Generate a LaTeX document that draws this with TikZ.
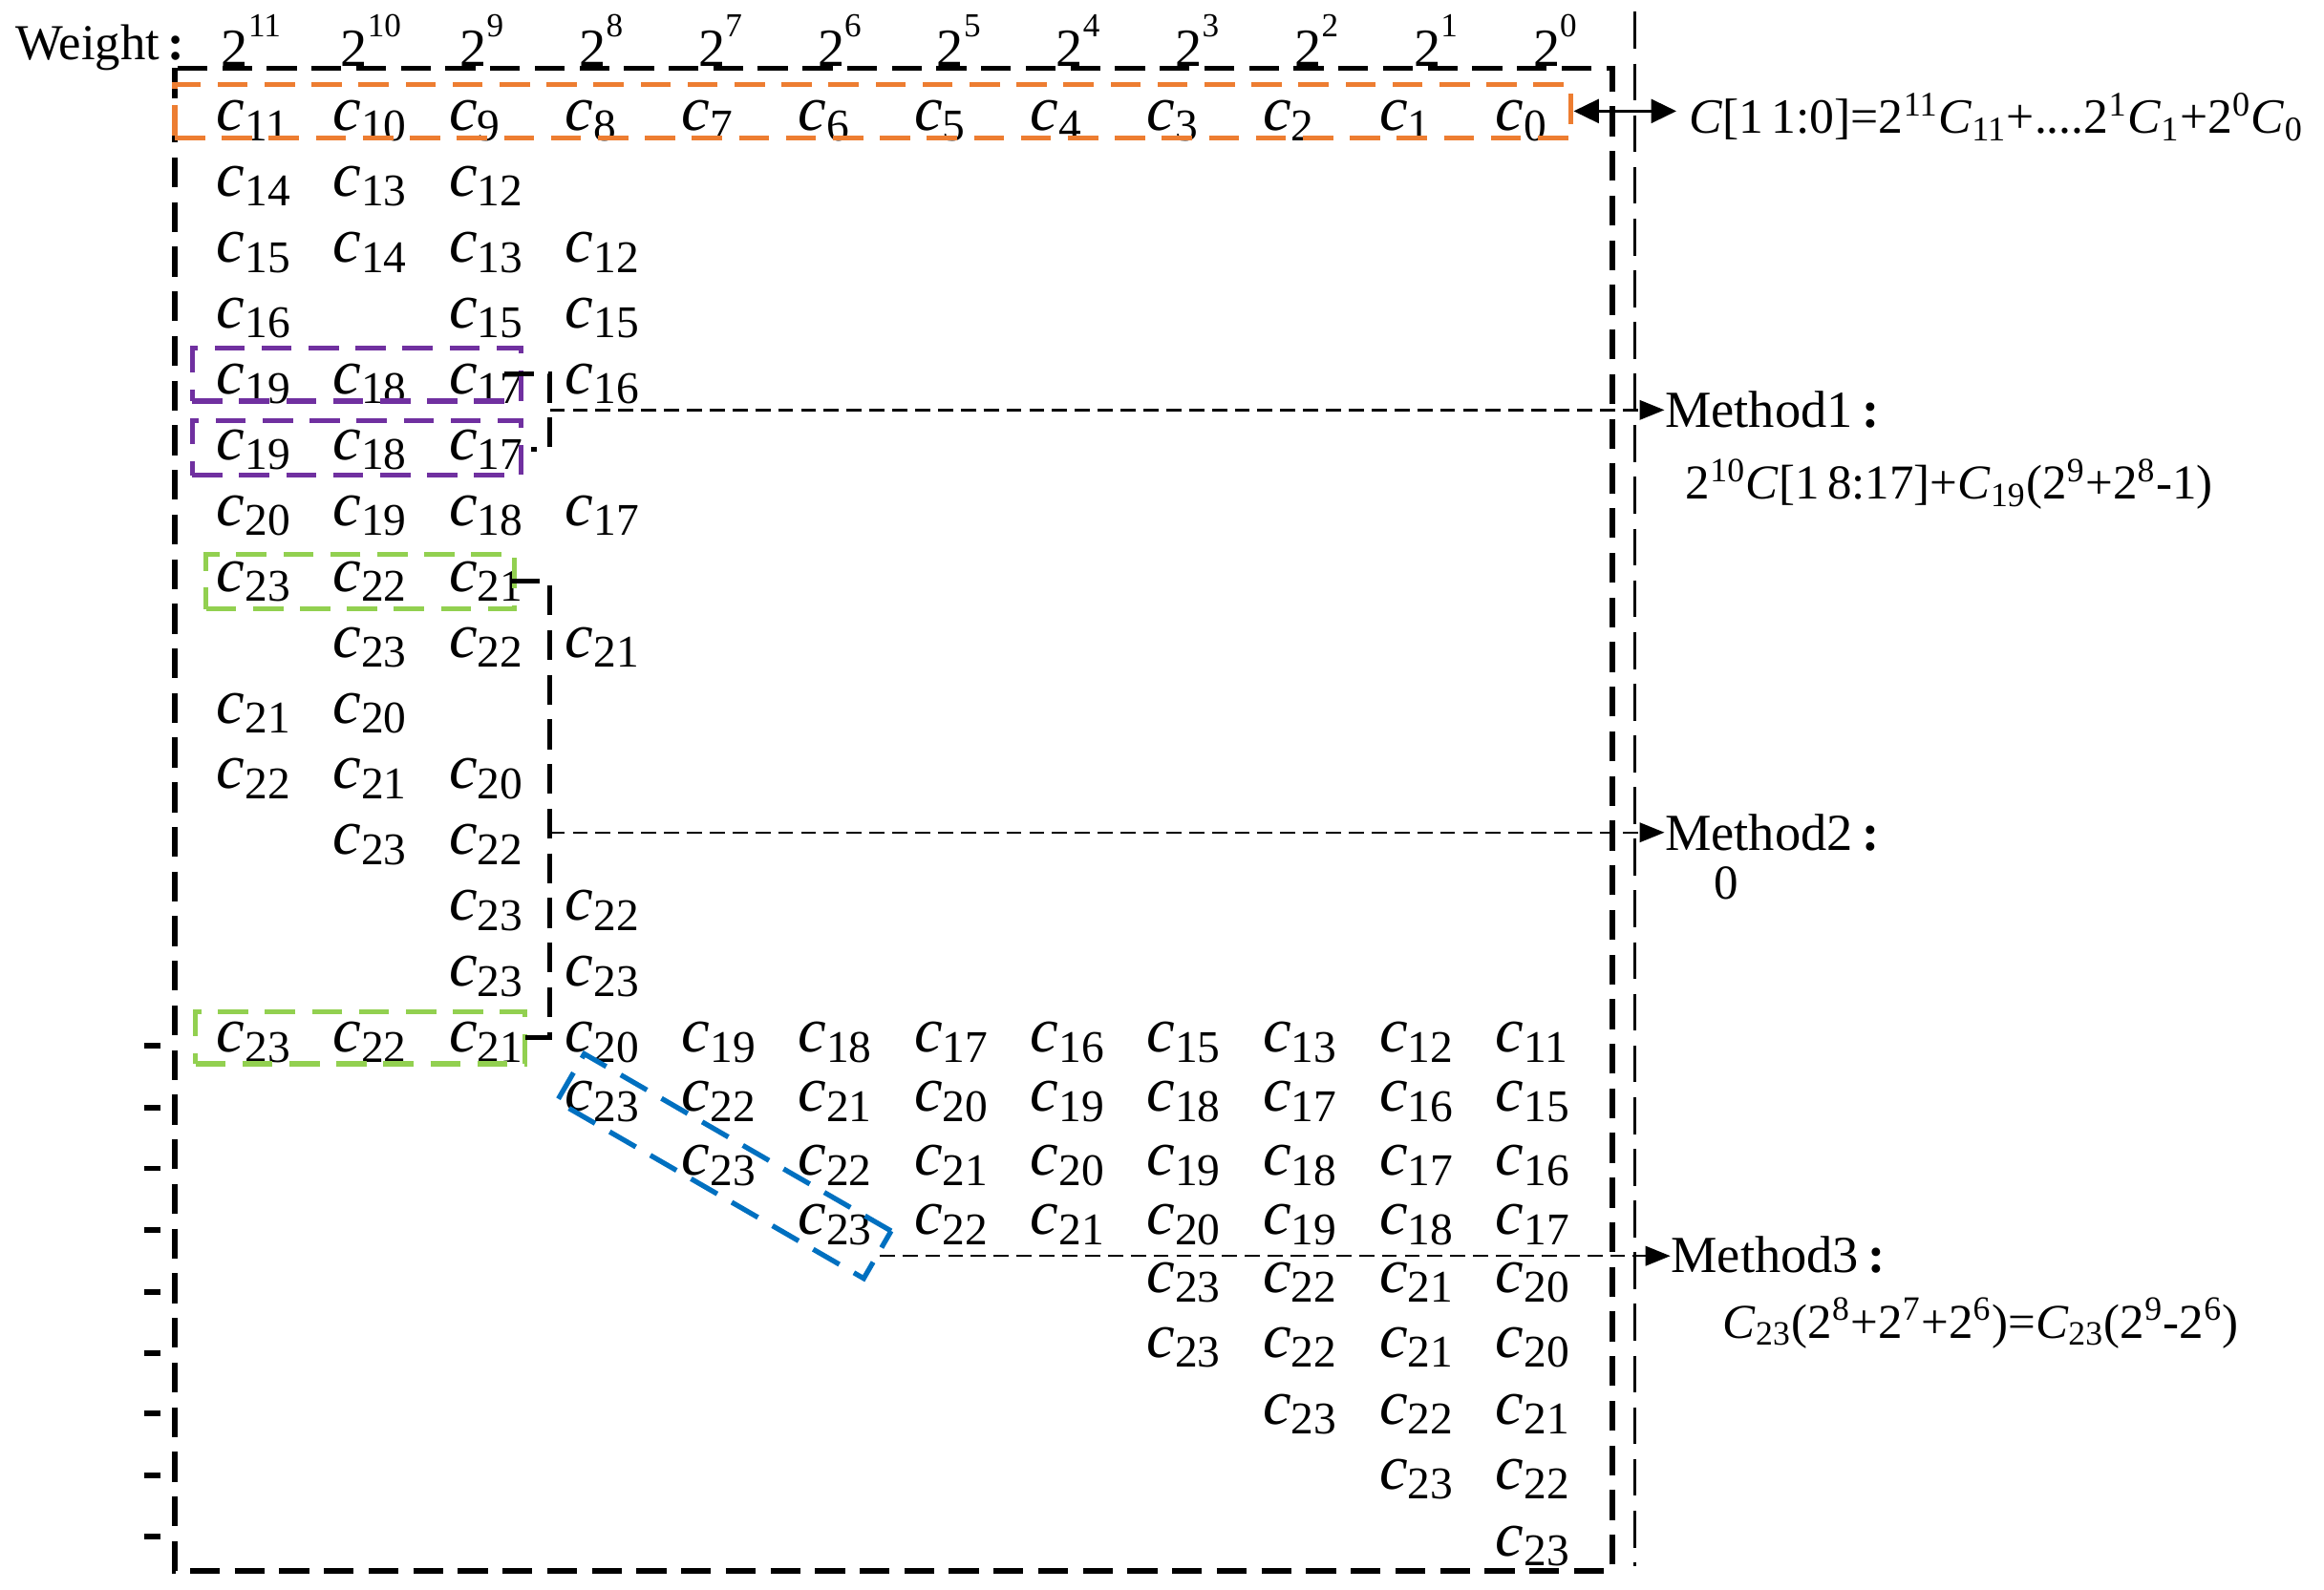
\documentclass[tikz,border=0pt]{standalone}
\usepackage{fontspec}
\setmainfont{Liberation Serif}
\usetikzlibrary{arrows.meta,fit}
\definecolor{orng}{HTML}{ED7D31}
\definecolor{purp}{HTML}{7030A0}
\definecolor{grn}{HTML}{92D050}
\definecolor{blu}{HTML}{0070C0}
\newcommand\clab[1]{{\fontsize{19}{19}\selectfont\itshape c}\raisebox{-3pt}{\fontsize{13.5}{13.5}\selectfont #1}}
\newcommand\wlab[1]{{\fontsize{16}{16}\selectfont 2}\raisebox{9pt}{\fontsize{10}{10}\selectfont #1}}
\newcommand\itC{\textit{C}}
\begin{document}
\begin{tikzpicture}[x=0.015517cm,y=-0.015517cm,
  lab/.style={inner sep=0pt, anchor=base west},
  bigbox/.style={line width=1.6pt, dash pattern=on 8.9pt off 4.4pt},
  vline/.style={line width=1.1pt, dash pattern=on 11pt off 4.4pt},
  cbox/.style={line width=1.5pt, dash pattern=on 9pt off 5pt, inner sep=0pt},
  brk/.style={line width=1.5pt, dash pattern=on 8.9pt off 4.4pt},
  conn/.style={line width=0.7pt, dash pattern=on 4.5pt off 2.3pt, -{Triangle[length=7.4pt,width=5.8pt]}},
  tickmark/.style={line width=1.7pt},
  meth/.style={inner sep=0pt, anchor=west, font=\fontsize{15.5}{16}\selectfont},
  form/.style={inner sep=0pt, anchor=base west, font=\fontsize{14.5}{15}\selectfont},
]
\useasboundingbox (0,0) rectangle (1568,1073);

% weight row
\node[lab, font=\fontsize{15}{15}\selectfont] (wt) at (10,40) {Weight\,\textbf{:}};
\foreach \i/\e in {0/11,1/10,2/9,3/8,4/7,5/6,6/5,7/4,8/3,9/2,10/1,11/0}
  \node[lab] (w\i) at ({149+80.45*\i},45) {\wlab{\e}};

% outer boxes
\draw[bigbox] (118,46) rectangle (1088,1060);
\draw[vline] (1103,8) -- (1103,1057);

% c labels
\foreach \r/\y/\items in {
  1/88/{0/11,1/10,2/9,3/8,4/7,5/6,6/5,7/4,8/3,9/2,10/1,11/0},
  2/132.4/{0/14,1/13,2/12},
  3/176.9/{0/15,1/14,2/13,3/12},
  4/221.3/{0/16,2/15,3/15},
  5/265.7/{0/19,1/18,2/17,3/16},
  6/310.2/{0/19,1/18,2/17},
  7/354.6/{0/20,1/19,2/18,3/17},
  8/399/{0/23,1/22,2/21},
  9/443.4/{1/23,2/22,3/21},
  10/487.9/{0/21,1/20},
  11/532.3/{0/22,1/21,2/20},
  12/576.7/{1/23,2/22},
  13/621.2/{2/23,3/22},
  14/665.6/{2/23,3/23},
  15/710/{0/23,1/22,2/21,3/20,4/19,5/18,6/17,7/16,8/15,9/13,10/12,11/11},
  16/750/{3/23,4/22,5/21,6/20,7/19,8/18,9/17,10/16,11/15},
  17/793/{4/23,5/22,6/21,7/20,8/19,9/18,10/17,11/16},
  18/833/{5/23,6/22,7/21,8/20,9/19,10/18,11/17},
  19/872/{8/23,9/22,10/21,11/20},
  20/916/{8/23,9/22,10/21,11/20},
  21/961/{9/23,10/22,11/21},
  22/1005/{10/23,11/22},
  23/1050/{11/23}}
{
  \foreach \k/\v in \items
    \node[lab] (c-\r-\k) at ({145.7+78.45*\k},\y) {\clab{\v}};
}

% left ticks
\foreach \t in {705.7,747.6,788.5,830,872,913,954,995.5,1036.8}
  \draw[tickmark] (97,\t) -- (108,\t);

% coloured boxes
\node[cbox, draw=orng, fit={(118,57) (1060,93)}] (ob) {};
\node[cbox, draw=purp, fit={(129.7,234.8) (351.4,270.7)}] (pA) {};
\node[cbox, draw=purp, fit={(129.7,284) (351.4,320.7)}] (pB) {};
\node[cbox, draw=grn, fit={(139,374) (347,411)}] (gA) {};
\node[cbox, draw=grn, fit={(131.9,682.7) (354,718)}] (gB) {};
\node[cbox, draw=blu, rotate=-30, minimum width=3.709cm, minimum height=0.574cm] (bl) at (488.5,787) {};

% brackets
\coordinate (b1) at (371,276.7);
\coordinate (b2) at (371,561.8);
\draw[brk] (340,252.4) -- (371,252.4) -- (371,303) -- (358,303);
\draw[brk] (344,392) -- (371,392) -- (371,700) -- (354,700);

% right texts
\node[lab, font=\fontsize{14.7}{15}\selectfont] (f0) at (1139,90)
  {\itC[1\,1:0]=2\textsuperscript{11}\itC\textsubscript{11}+....2\textsuperscript{1}\itC\textsubscript{1}+2\textsuperscript{0}\itC\textsubscript{0}};
\node[meth] (m1) at (1123,276.7) {Method1\,\textbf{:}};
\node[form] (f1) at (1137,337) {2\textsuperscript{10}\itC[1\,8:17]+\itC\textsubscript{19}(2\textsuperscript{9}+2\textsuperscript{8}-1)};
\node[meth] (m2) at (1123,561.8) {Method2\,\textbf{:}};
\node[form] (f2) at (1156,607) {0};
\node[meth] (m3) at (1127,846.7) {Method3\,\textbf{:}};
\node[form] (f3) at (1162,903) {\itC\textsubscript{23}(2\textsuperscript{8}+2\textsuperscript{7}+2\textsuperscript{6})=\itC\textsubscript{23}(2\textsuperscript{9}-2\textsuperscript{6})};

% connectors
\draw[line width=1pt, {Triangle[length=7.5pt,width=7pt]}-{Triangle[length=7.5pt,width=7pt]}, shorten >=3.5pt] (ob.east) -- (ob.east -| f0.west);
\draw[conn] (b1) -- (b1 -| m1.west);
\draw[conn] (b2) -- (b2 -| m2.west);
\draw[conn] (bl.east) -- (bl.east -| m3.west);
\end{tikzpicture}
\end{document}
